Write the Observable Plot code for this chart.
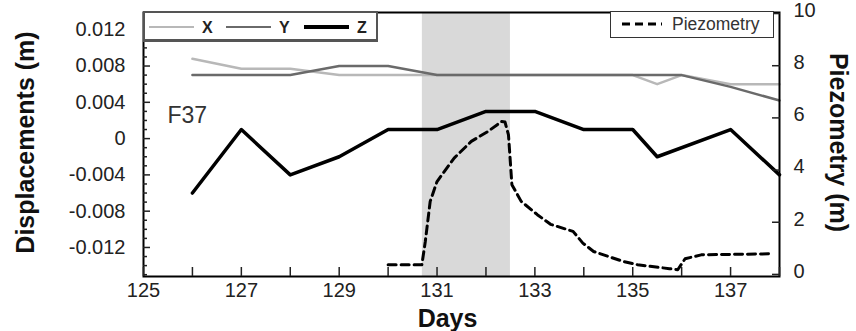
<!DOCTYPE html>
<html><head><meta charset="utf-8">
<script src="https://cdn.jsdelivr.net/npm/d3@7"></script>
<script src="https://cdn.jsdelivr.net/npm/@observablehq/plot@0.6"></script>
<style>
body{margin:0;background:#fff;font-family:"Liberation Sans",Arial,sans-serif}
#wrap{position:relative;width:856px;height:331px}
.box{position:absolute;background:#fff;box-sizing:border-box}
.item{position:absolute}
</style></head><body><div id="wrap"></div>
<script>
// ---- data ----
const xDays = [126, 127, 128, 129, 130, 131, 132, 133, 134, 135, 135.5, 136, 137, 138];
const xVals = [0.0088, 0.0077, 0.0077, 0.007, 0.007, 0.007, 0.007, 0.007, 0.007, 0.007, 0.006, 0.007, 0.006, 0.006];
const yDays = [126, 127, 128, 129, 130, 131, 132, 133, 134, 135, 136, 137, 138];
const yVals = [0.007, 0.007, 0.007, 0.008, 0.008, 0.007, 0.007, 0.007, 0.007, 0.007, 0.007, 0.0057, 0.0042];
const zDays = [126, 127, 128, 129, 130, 131, 132, 133, 134, 135, 135.5, 137, 138];
const zVals = [-0.006, 0.001, -0.004, -0.002, 0.001, 0.001, 0.003, 0.003, 0.001, 0.001, -0.002, 0.001, -0.004];
const pDays = [130, 130.69, 130.76, 130.86, 131.0, 131.35, 131.7, 132.04, 132.32, 132.39, 132.46, 132.53, 132.72, 133.05, 133.32, 133.78, 133.98, 134.2, 134.8, 135.1, 135.75, 135.92, 136.07, 136.4, 137.8];
const pVals = [0.37, 0.37, 1.26, 2.8, 3.56, 4.46, 5.1, 5.48, 5.86, 5.84, 5.35, 3.44, 2.8, 2.29, 1.92, 1.65, 1.2, 0.88, 0.5, 0.37, 0.22, 0.18, 0.6, 0.75, 0.79];
const eventBand = [{start: 130.7, end: 132.5}];
const xLabelTicks = [125, 127, 129, 131, 133, 135, 137];
const xTickMarks = [125, 126, 127, 128, 129, 130, 131, 132, 133, 134, 135, 136, 137, 138];
const leftTicks = [-0.012, -0.008, -0.004, 0, 0.004, 0.008, 0.012];
const leftMinor = [-0.015,-0.014,-0.013,-0.011,-0.010,-0.009,-0.007,-0.006,-0.005,-0.003,-0.002,-0.001,0.001,0.002,0.003,0.005,0.006,0.007,0.009,0.010,0.011,0.013];
const rightTicks = [0, 2, 4, 6, 8, 10];
const seriesNames = ["X", "Y", "Z"];
const stationLabel = "F37";

// ---- scales ----
const leftDomain = [-0.0152, 0.0139];
const rightDomain = [-0.08, 10.04];
const toLeft = d3.scaleLinear().domain(rightDomain).range(leftDomain);
const FONT = '"Liberation Sans", Arial, sans-serif';

const rec = (days, vals) => days.map((d, i) => ({day: d, v: vals[i]}));
const X = rec(xDays, xVals), Y = rec(yDays, yVals), Z = rec(zDays, zVals);
const P = rec(pDays, pVals).map(d => ({day: d.day, v: toLeft(d.v)}));

const chart = Plot.plot({
  width: 856, height: 331,
  marginLeft: 143, marginRight: 77, marginTop: 12, marginBottom: 55,
  x: {domain: [125, 138]},
  y: {domain: leftDomain},
  style: {fontFamily: FONT, background: "white", color: "#222"},
  marks: [
    Plot.rect(eventBand, {x1: "start", x2: "end", fill: "#d9d9d9"}),
    Plot.line(X, {x: "day", y: "v", stroke: "#b8b8b8", strokeWidth: 2.5}),
    Plot.line(Y, {x: "day", y: "v", stroke: "#6a6a6a", strokeWidth: 2.5}),
    Plot.line(Z, {x: "day", y: "v", stroke: "#000", strokeWidth: 3.5}),
    Plot.line(P, {x: "day", y: "v", stroke: "#000", strokeWidth: 3, strokeDasharray: "8,5"}),
    Plot.frame({stroke: "#000", strokeWidth: 2}),
    // left axis
    Plot.axisY({anchor: "left", ticks: leftTicks, tickSize: 0, tickPadding: 18, fontSize: 20, label: null,
      tickFormat: d => d === 0 ? "0" : d.toFixed(3)}),
    Plot.axisY({anchor: "left", ticks: leftTicks, tickSize: -7, fill: "none", label: null, strokeWidth: 1.5}),
    Plot.axisY({anchor: "left", ticks: leftMinor, tickSize: -4, fill: "none", label: null, strokeWidth: 1.5}),
    // right axis
    Plot.axisY({anchor: "right", ticks: rightTicks.map(toLeft), tickSize: 0, tickPadding: 14, fontSize: 20, label: null, dy: -3,
      tickFormat: d => String(Math.round(toLeft.invert(d)))}),
    Plot.axisY({anchor: "right", ticks: rightTicks.map(toLeft), tickSize: -8, fill: "none", label: null, strokeWidth: 1.5}),
    // x axis
    Plot.axisX({anchor: "bottom", ticks: xLabelTicks, tickSize: 0, tickPadding: 6, fontSize: 20, label: null}),
    Plot.axisX({anchor: "bottom", ticks: xTickMarks, tickSize: -9, fill: "none", label: null, strokeWidth: 1.5}),
    // titles
    Plot.text(["Displacements (m)"], {frameAnchor: "left", rotate: -90, dx: -118, dy: -2, fontSize: 25, fontWeight: "bold", textAnchor: "middle", lineAnchor: "middle", fill: "#111"}),
    Plot.text(["Piezometry (m)"], {frameAnchor: "right", rotate: 90, dx: 58, dy: -2, fontSize: 25, fontWeight: "bold", textAnchor: "middle", lineAnchor: "middle", fill: "#111"}),
    Plot.text(["Days"], {frameAnchor: "bottom", dy: 42, dx: -14, fontSize: 25, fontWeight: "bold", textAnchor: "middle", lineAnchor: "middle", fill: "#111"}),
    Plot.text([stationLabel], {frameAnchor: "top-left", dx: 24, dy: 103, fontSize: 23, textAnchor: "start", lineAnchor: "middle", fill: "#333"})
  ]
});
const wrap = document.getElementById("wrap");
wrap.appendChild(chart);

// ---- legends ----
const lineStyles = {X: {c: "#b8b8b8", w: 2.5}, Y: {c: "#6a6a6a", w: 2.5}, Z: {c: "#000", w: 3.5}};
const left = document.createElement("div");
left.className = "box";
Object.assign(left.style, {left: "143px", top: "11px", width: "235px", height: "31px", border: "2px solid #555", borderBottomWidth: "3px"});
const itemX = [4, 81, 159];
seriesNames.forEach((n, i) => {
  const s = lineStyles[n];
  const ln = document.createElement("div");
  ln.className = "item";
  Object.assign(ln.style, {left: itemX[i] + "px", top: (14 - s.w / 2) + "px", width: "45px", height: s.w + "px", background: s.c});
  left.appendChild(ln);
  const t = document.createElement("div");
  t.className = "item";
  t.textContent = n;
  Object.assign(t.style, {left: (itemX[i] + 53) + "px", top: "6px", fontSize: "16px", fontWeight: "bold", lineHeight: "18px", color: "#222"});
  left.appendChild(t);
});
wrap.appendChild(left);

const right = document.createElement("div");
right.className = "box";
Object.assign(right.style, {left: "610px", top: "11px", width: "164px", height: "27px", border: "1.5px solid #333"});
const dl = document.createElementNS("http://www.w3.org/2000/svg", "svg");
dl.setAttribute("width", "40"); dl.setAttribute("height", "6");
Object.assign(dl.style, {position: "absolute", left: "11px", top: "9px"});
dl.innerHTML = '<line x1="0" y1="3" x2="40" y2="3" stroke="#000" stroke-width="3" stroke-dasharray="8,5"/>';
right.appendChild(dl);
const pt = document.createElement("div");
pt.className = "item";
pt.textContent = "Piezometry";
Object.assign(pt.style, {left: "61px", top: "3px", fontSize: "17.5px", lineHeight: "18px", color: "#333"});
right.appendChild(pt);
wrap.appendChild(right);
</script>
</body></html>
